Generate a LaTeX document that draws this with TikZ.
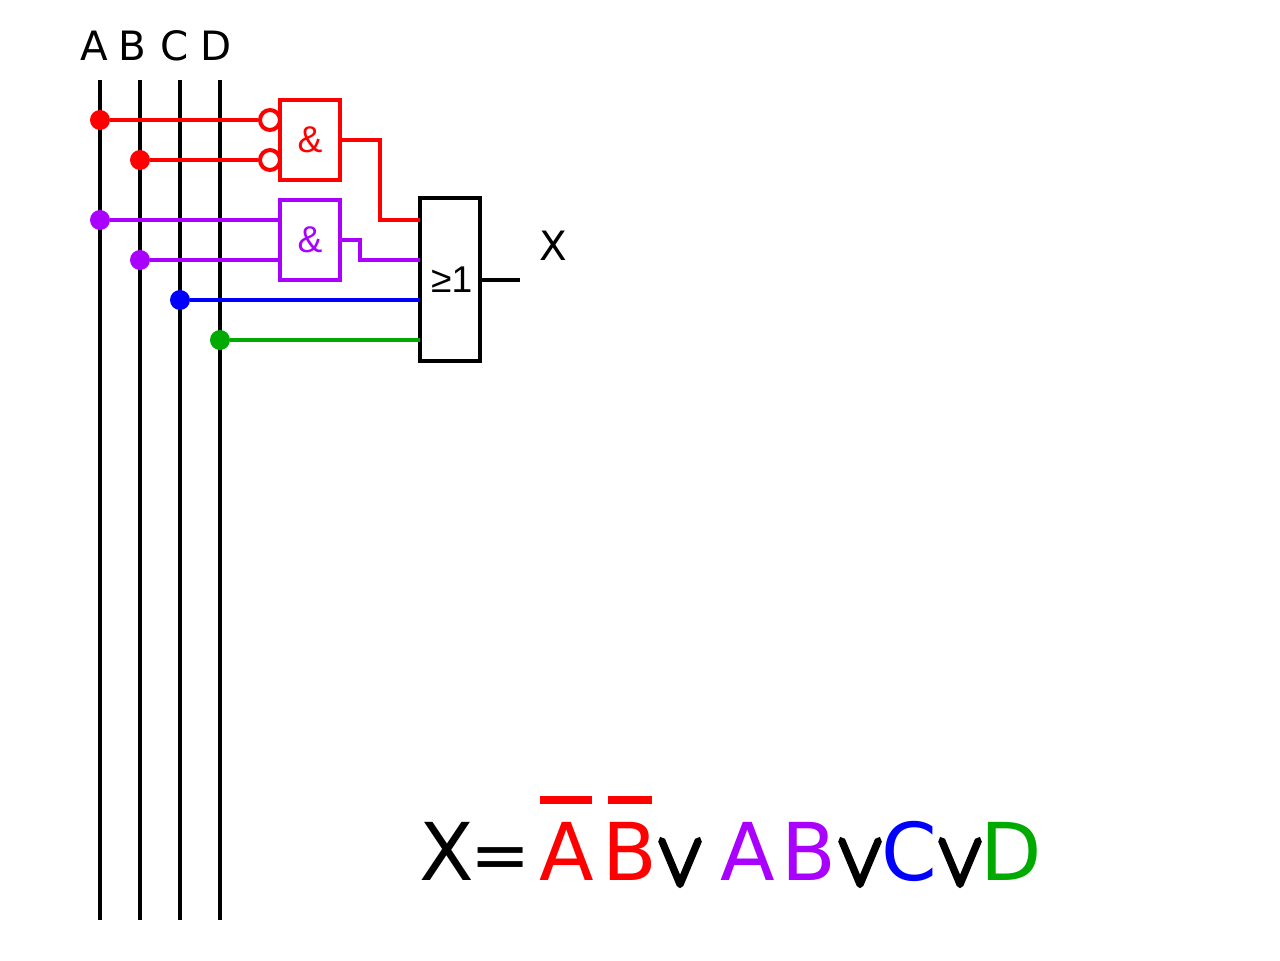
\documentclass[tikz,border=0pt]{standalone}
\usepackage{fontspec}
\setmainfont{DejaVu Sans}
\newfontfamily\gatefont{Liberation Sans}
\newfontfamily\opfont[FakeBold=6]{Latin Modern Math}
\usepackage{xcolor}
\usetikzlibrary{positioning,calc}
\definecolor{termA}{HTML}{FF0000}
\definecolor{termB}{HTML}{AA00FF}
\definecolor{termC}{HTML}{0000FF}
\definecolor{termD}{HTML}{00AA00}
\tikzset{
    bus/.style={line width=2.27pt, black},
    wire/.style={line width=2.27pt},
    dot/.style={circle, fill=#1, inner sep=0pt, minimum size=0.4cm},
    inv/.style={circle, draw=#1, fill=white, line width=2.27pt, inner sep=0pt, minimum size=0.4cm},
    gate/.style={draw=#1, fill=white, text=#1, line width=2.27pt, inner sep=0pt, minimum width=1.2cm, font=\gatefont\fontsize{21.2}{25}\selectfont},
    lab/.style={font=\fontsize{23}{27}\selectfont, inner sep=0pt, anchor=base},
    eqn/.style={font=\fontsize{45.4}{54}\selectfont, inner sep=0pt, anchor=base, text=#1},
    eqn/.default=black,
    op/.style={font=\opfont\fontsize{42}{50}\selectfont, inner sep=0pt, anchor=base, text=black}
}
\begin{document}
\begin{tikzpicture}[x=0.02cm, y=-0.02cm]
    \useasboundingbox (0,0) rectangle (1280,960);

    % Input lines
    \foreach \nm/\xx in {A/100, B/140, C/180, D/220} {
        \coordinate (top\nm) at (\xx,80);
        \coordinate (bot\nm) at (\xx,920);
        \draw[bus] (top\nm) -- (bot\nm);
    }
    \node[lab] (labA) at (94,60) {A};
    \node[lab] (labB) at (132.5,60) {B};
    \node[lab] (labC) at (174.5,60) {C};
    \node[lab] (labD) at (216,60) {D};

    % Gates
    \node[gate=termA, minimum height=1.6cm] (andOne) at (310,140) {\&};
    \node[gate=termB, minimum height=1.6cm] (andTwo) at (310,240) {\&};
    \node[gate=black, minimum height=3.26cm, text width=1cm, align=center] (orGate) at (450,279.5) {\hspace*{2pt}≥1};

    % Junctions and inverters
    \node[dot=termA] (jA) at (100,120) {};
    \node[dot=termA] (jB) at (140,160) {};
    \node[dot=termB] (kA) at (100,220) {};
    \node[dot=termB] (kB) at (140,260) {};
    \node[dot=termC] (kC) at (180,300) {};
    \node[dot=termD] (kD) at (220,340) {};
    \node[inv=termA] (notA) at (270,120) {};
    \node[inv=termA] (notB) at (270,160) {};

    % Or gate inputs
    \coordinate (inOne) at (420,220);
    \coordinate (inTwo) at (420,260);
    \coordinate (inThree) at (420,300);
    \coordinate (inFour) at (420,340);
    \coordinate (outX) at (520,280);

    % Wires
    \draw[wire, termA] (jA) -- (notA);
    \draw[wire, termA] (jB) -- (notB);
    \draw[wire, termA] (andOne.east) -- (380,140) -- (380,220) -- (inOne);
    \draw[wire, termB] (kA) -- (kA -| andTwo.west);
    \draw[wire, termB] (kB) -- (kB -| andTwo.west);
    \draw[wire, termB] (andTwo.east) -- (360,240) -- (360,260) -- (inTwo);
    \draw[wire, termC] (kC) -- (inThree);
    \draw[wire, termD] (kD) -- (inFour);
    \draw[wire, black] (orGate.east |- outX) -- (outX);
    \node[lab] (labX) at (553.5,260) {X};

    % Equation
    \node[eqn] (eqX) at (447,880) {X};
    \node[eqn] (eqEq) at (501,879.5) {\scalebox{0.9}[0.88]{=}};
    \node[eqn=termA] (eqA) at (567,880) {A};
    \node[eqn=termA] (eqB) at (630,880) {B};
    \node[op] (eqOrOne) at (680,884) {∨};
    \node[eqn=termB] (eqC) at (748,880) {A};
    \node[eqn=termB] (eqD) at (809,880) {B};
    \node[op] (eqOrTwo) at (860,884) {∨};
    \node[eqn=termC] (eqE) at (909,880) {C};
    \node[op] (eqOrThree) at (960,884) {∨};
    \node[eqn=termD] (eqF) at (1011,880) {D};

    % Bars over the inverted letters
    \fill[termA] (540,796) rectangle (592,804);
    \fill[termA] (608,796) rectangle (652,804);
\end{tikzpicture}
\end{document}
